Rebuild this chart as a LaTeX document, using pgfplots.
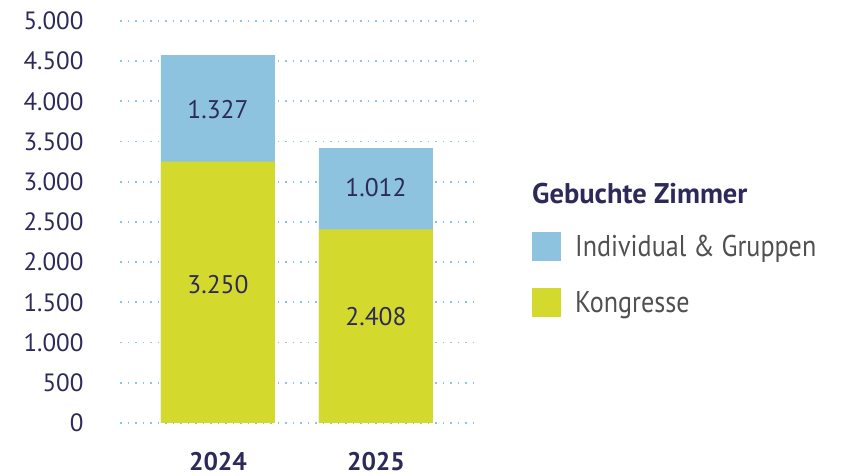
\documentclass[border=0pt]{standalone}
\usepackage{pgfplots}
\pgfplotsset{compat=1.18}
\usepackage{fontspec}
\setmainfont{PT Sans}
\newfontfamily\legfont[FakeStretch=0.87]{PT Sans}
\definecolor{cblue}{HTML}{8DC3DF}
\definecolor{cyel}{HTML}{D4DA2D}
\definecolor{navy}{HTML}{2D2A5A}
\definecolor{gtext}{HTML}{505050}
\begin{document}
\begin{tikzpicture}
\path[use as bounding box] (0,0) rectangle (843pt,476pt);
\begin{axis}[
  at={(120pt,53pt)}, anchor=south west,
  scale only axis, width=356pt, height=402pt,
  xmin=-0.62, xmax=1.633, ymin=0, ymax=5000,
  ytick={0,500,...,5000},
  xtick={0,1}, xticklabels={2024,2025},
  axis line style={draw=none}, major tick length=0pt,
  ymajorgrids, grid style={color=cblue, line width=1.8pt, dash pattern=on 1.6pt off 5.9pt},
  /pgf/number format/assume math mode=true,
  /pgf/number format/1000 sep={.},
  yticklabel style={font=\fontsize{25}{28}\selectfont, text=navy, anchor=east, xshift=-33pt},
  xticklabel style={font=\fontsize{25.5}{28}\selectfont\bfseries, text=navy, inner sep=0pt, anchor=north, yshift=-29pt},
  legend style={at={(1.149,0.601)}, anchor=north west, draw=none, fill=none,
    font=\legfont\fontsize{30}{34}\selectfont, text=gtext, row sep=27pt,
    nodes={inner sep=0pt}, column sep=14pt,
    cells={anchor=west}},
  legend cell align=left,
  legend image code/.code={\fill[#1,draw=none] (0pt,-14.5pt) rectangle (29pt,14.5pt);},
]
\addlegendimage{empty legend}
\addlegendentry[text=navy, font=\fontsize{28.5}{32}\selectfont\bfseries]{\hspace{-43pt}Gebuchte Zimmer}
\addlegendimage{fill=cblue}
\addlegendentry{Individual \& Gruppen}
\addlegendimage{fill=cyel}
\addlegendentry{Kongresse}
\addplot[ybar, bar width=114pt, bar shift=0pt, fill=cblue, draw=none, forget plot] coordinates {(0,4577) (1,3420)};
\addplot[ybar, bar width=114pt, bar shift=0pt, fill=cyel, draw=none, forget plot] coordinates {(0,3250) (1,2408)};
\addplot[draw=none, forget plot, nodes near coords, point meta=explicit symbolic,
  nodes near coords align={center},
  every node near coord/.append style={font=\fontsize{25.5}{28}\selectfont, text=navy}]
  coordinates {(0,3900)[1.327] (0,1720)[3.250] (1,2930)[1.012] (1,1320)[2.408]};
\end{axis}
\end{tikzpicture}
\end{document}
